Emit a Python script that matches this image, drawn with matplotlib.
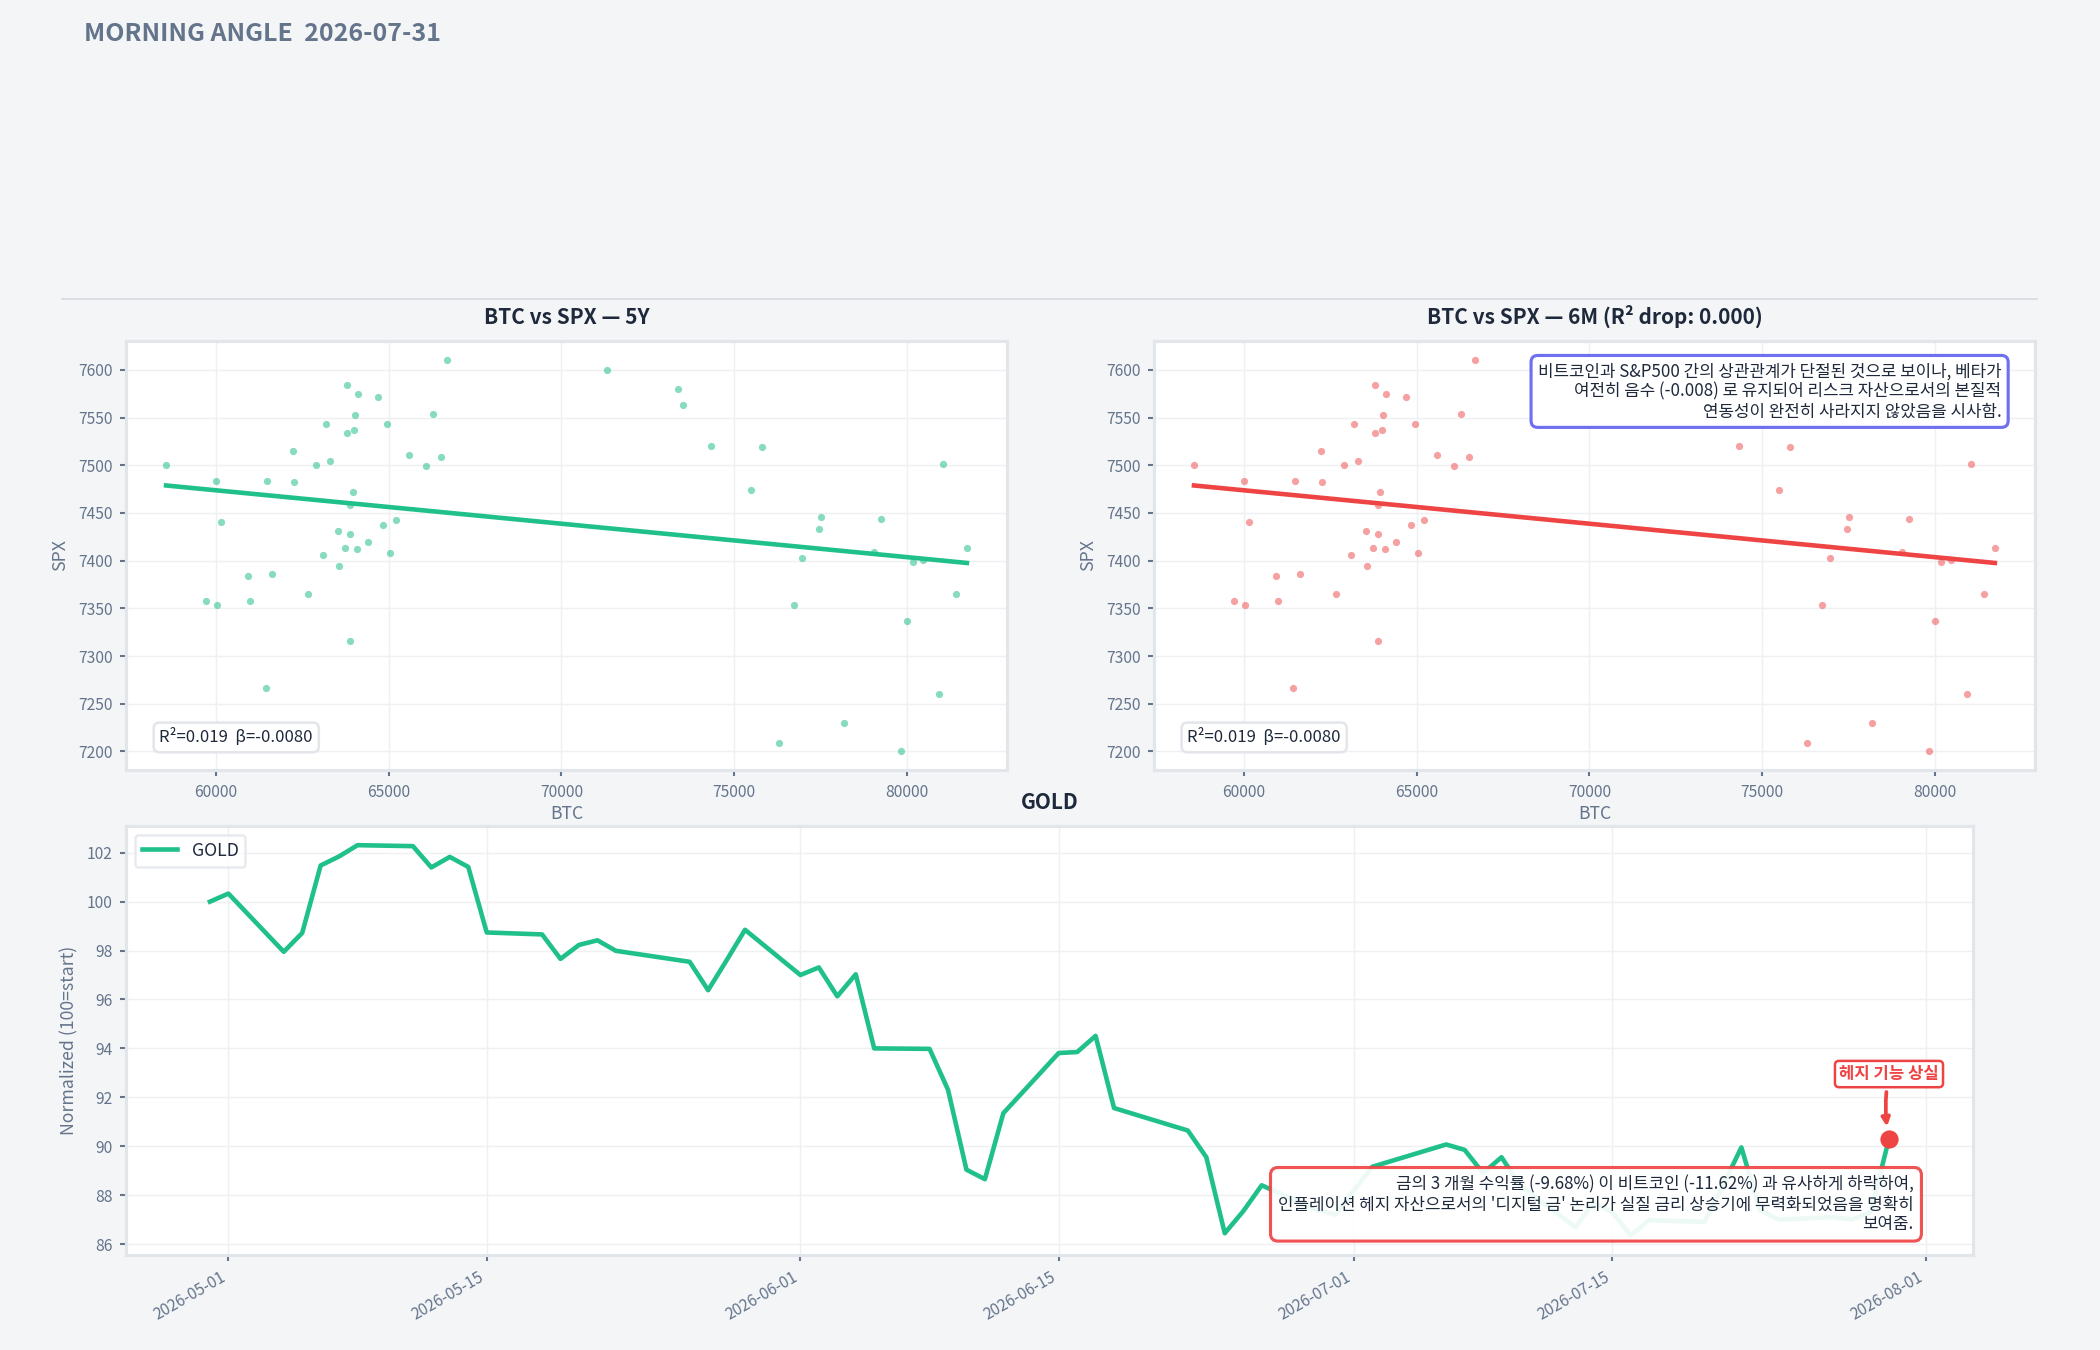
import numpy as np
import pandas as pd
import matplotlib
matplotlib.use("Agg")
import matplotlib.pyplot as plt
import matplotlib.dates as mdates

plt.rcParams["font.family"] = ["Noto Sans CJK KR", "DejaVu Sans"]

# BTC vs SPX daily closes (same sample in both panels)
btc = [58550, 60000, 60140, 59700, 60020, 60920, 60990, 61470, 61630, 61430,
       62230, 62250, 62650, 62890, 63190, 63290, 63100, 63560, 63540, 63720,
       63790, 63790, 63880, 63890, 63950, 63980, 64020, 64110, 64090, 63890,
       64410, 64690, 64830, 64940, 65040, 65220, 65590, 66090, 66280, 66500,
       66690, 71310, 73360, 73520, 74340, 75490, 75820, 76300, 76740, 76960,
       77450, 77520, 78180, 79040, 79260, 79820, 80000, 80190, 80460, 80920,
       81040, 81430, 81740]
spx = [7500, 7483, 7440, 7358, 7354, 7384, 7358, 7483, 7386, 7267,
       7515, 7482, 7365, 7500, 7543, 7504, 7406, 7394, 7431, 7413,
       7584, 7534, 7428, 7458, 7472, 7537, 7553, 7575, 7412, 7316,
       7420, 7572, 7437, 7543, 7408, 7443, 7511, 7499, 7554, 7509,
       7610, 7600, 7580, 7563, 7520, 7474, 7519, 7209, 7354, 7403,
       7433, 7446, 7230, 7409, 7444, 7201, 7337, 7399, 7401, 7260,
       7501, 7365, 7413]

gold_dates = ["2026-04-30", "2026-05-01", "2026-05-04", "2026-05-05", "2026-05-06",
              "2026-05-07", "2026-05-08", "2026-05-11", "2026-05-12", "2026-05-13",
              "2026-05-14", "2026-05-15", "2026-05-18", "2026-05-19", "2026-05-20",
              "2026-05-21", "2026-05-22", "2026-05-26", "2026-05-27", "2026-05-28",
              "2026-05-29", "2026-06-01", "2026-06-02", "2026-06-03", "2026-06-04",
              "2026-06-05", "2026-06-08", "2026-06-09", "2026-06-10", "2026-06-11",
              "2026-06-12", "2026-06-15", "2026-06-16", "2026-06-17", "2026-06-18",
              "2026-06-22", "2026-06-23", "2026-06-24", "2026-06-25", "2026-06-26",
              "2026-06-29", "2026-06-30", "2026-07-01", "2026-07-02", "2026-07-06",
              "2026-07-07", "2026-07-08", "2026-07-09", "2026-07-10", "2026-07-13",
              "2026-07-14", "2026-07-15", "2026-07-16", "2026-07-17", "2026-07-20",
              "2026-07-21", "2026-07-22", "2026-07-23", "2026-07-24", "2026-07-27",
              "2026-07-28", "2026-07-29", "2026-07-30"]
gold_norm = [100.00, 100.33, 97.95, 98.72, 101.48,
             101.85, 102.31, 102.27, 101.40, 101.83,
             101.42, 98.74, 98.66, 97.66, 98.23,
             98.42, 97.99, 97.54, 96.38, 97.60,
             98.85, 97.00, 97.31, 96.13, 97.03,
             94.00, 93.98, 92.31, 89.04, 88.65,
             91.35, 93.81, 93.85, 94.51, 91.56,
             90.64, 89.55, 86.44, 87.34, 88.40,
             87.40, 87.20, 88.20, 89.16, 90.07,
             89.85, 88.90, 89.55, 88.40, 86.69,
             87.70, 87.30, 86.35, 86.98, 86.90,
             88.40, 89.95, 87.40, 87.00, 87.10,
             87.00, 87.30, 90.30]

stat_text = "R²=0.019  β=-0.0080"
note_scatter = ("비트코인과 S&P500 간의 상관관계가 단절된 것으로 보이나, 베타가\n"
                "여전히 음수 (-0.008) 로 유지되어 리스크 자산으로서의 본질적\n"
                "연동성이 완전히 사라지지 않았음을 시사함.")
note_gold = ("금의 3 개월 수익률 (-9.68%) 이 비트코인 (-11.62%) 과 유사하게 하락하여,\n"
             "인플레이션 헤지 자산으로서의 '디지털 금' 논리가 실질 금리 상승기에 무력화되었음을 명확히\n"
             "보여줌.")

BG = "#f4f5f7"
GRID = "#eef0f3"
SPINE = "#e2e5ea"
MUTED = "#64748b"
DARK = "#1e293b"
GREEN = "#20c08b"
RED = "#ef4444"

fig = plt.figure(figsize=(14, 9), dpi=150, facecolor=BG)

fig.text(0.04, 0.975, "MORNING ANGLE  2026-07-31", fontsize=12, fontweight="bold",
         color=MUTED, ha="left", va="center")
fig.add_artist(plt.Line2D([0.0295, 0.97], [0.7785, 0.7785], color="#d5d9df", lw=0.8))


def style_axes(ax):
    ax.set_facecolor("white")
    for s in ax.spines.values():
        s.set_color(SPINE)
        s.set_linewidth(1.5)
    ax.grid(True, color=GRID, lw=0.7)
    ax.set_axisbelow(True)
    ax.tick_params(colors=MUTED, labelsize=7.5, length=3, width=1)


x = np.array(btc, dtype=float)
y = np.array(spx, dtype=float)
slope, intercept = np.polyfit(x, y, 1)
xs = np.array([x.min(), x.max()])

panels = [
    (0.060, "BTC vs SPX — 5Y", "#10b981", GREEN),
    (0.5495, "BTC vs SPX — 6M (R² drop: 0.000)", RED, RED),
]
for left, title, dot_c, line_c in panels:
    ax = fig.add_axes([left, 0.4296, 0.4195, 0.318])
    style_axes(ax)
    ax.scatter(x, y, s=12, color=dot_c, alpha=0.5, lw=0)
    ax.plot(xs, slope * xs + intercept, color=line_c, lw=2.2)
    ax.set_title(title, fontsize=10, fontweight="bold", color=DARK, pad=8)
    ax.set_xlabel("BTC", color=MUTED, fontsize=8.5, labelpad=2)
    ax.set_ylabel("SPX", color=MUTED, fontsize=8.5, labelpad=4)
    ax.text(0.038, 0.055, stat_text, transform=ax.transAxes, fontsize=8, color=DARK,
            ha="left", va="bottom",
            bbox=dict(boxstyle="round,pad=0.35", fc="white", ec=SPINE, lw=1.2))
    if left > 0.5:
        ax.text(0.962, 0.95, note_scatter, transform=ax.transAxes, fontsize=8.1,
                color=DARK, ha="right", va="top", zorder=5, linespacing=1.15,
                bbox=dict(boxstyle="round,pad=0.4", fc="white", ec="#6f6ff0", lw=1.5))

# GOLD normalized
dates = pd.to_datetime(gold_dates)
axg = fig.add_axes([0.060, 0.0704, 0.8795, 0.318])
style_axes(axg)
axg.plot(dates, gold_norm, color=GREEN, lw=2.2, label="GOLD")
axg.set_title("GOLD", fontsize=10, fontweight="bold", color=DARK, pad=8)
axg.set_ylabel("Normalized (100=start)", color=MUTED, fontsize=8.5)
axg.xaxis.set_major_locator(mdates.DayLocator(bymonthday=[1, 15]))
axg.xaxis.set_major_formatter(mdates.DateFormatter("%Y-%m-%d"))
for lab in axg.get_xticklabels():
    lab.set_rotation(30)
    lab.set_ha("right")
leg = axg.legend(loc="upper left", fontsize=8.5, frameon=True, fancybox=True)
leg.get_frame().set_edgecolor(SPINE)
leg.get_frame().set_linewidth(1.2)
for t in leg.get_texts():
    t.set_color(DARK)

last_d, last_v = dates[-1], gold_norm[-1]
axg.scatter([last_d], [last_v], s=60, color=RED, zorder=6)
axg.annotate("헤지 기능 상실", xy=(last_d, last_v), xytext=(last_d, last_v + 2.65),
             fontsize=8, fontweight="bold", color=RED, ha="center", va="center",
             bbox=dict(boxstyle="round,pad=0.25", fc="white", ec=RED, lw=1.2),
             arrowprops=dict(arrowstyle="-|>", color=RED, lw=1.8,
                             connectionstyle="arc3,rad=0.1", shrinkA=2, shrinkB=6),
             zorder=7)
axg.text(0.968, 0.05, note_gold, transform=axg.transAxes, fontsize=8.1, color=DARK,
         ha="right", va="bottom", zorder=5, linespacing=1.15,
         bbox=dict(boxstyle="round,pad=0.45", fc="white", ec=RED, lw=1.5, alpha=0.92))

fig.savefig("out.png", dpi=150, facecolor=BG)
